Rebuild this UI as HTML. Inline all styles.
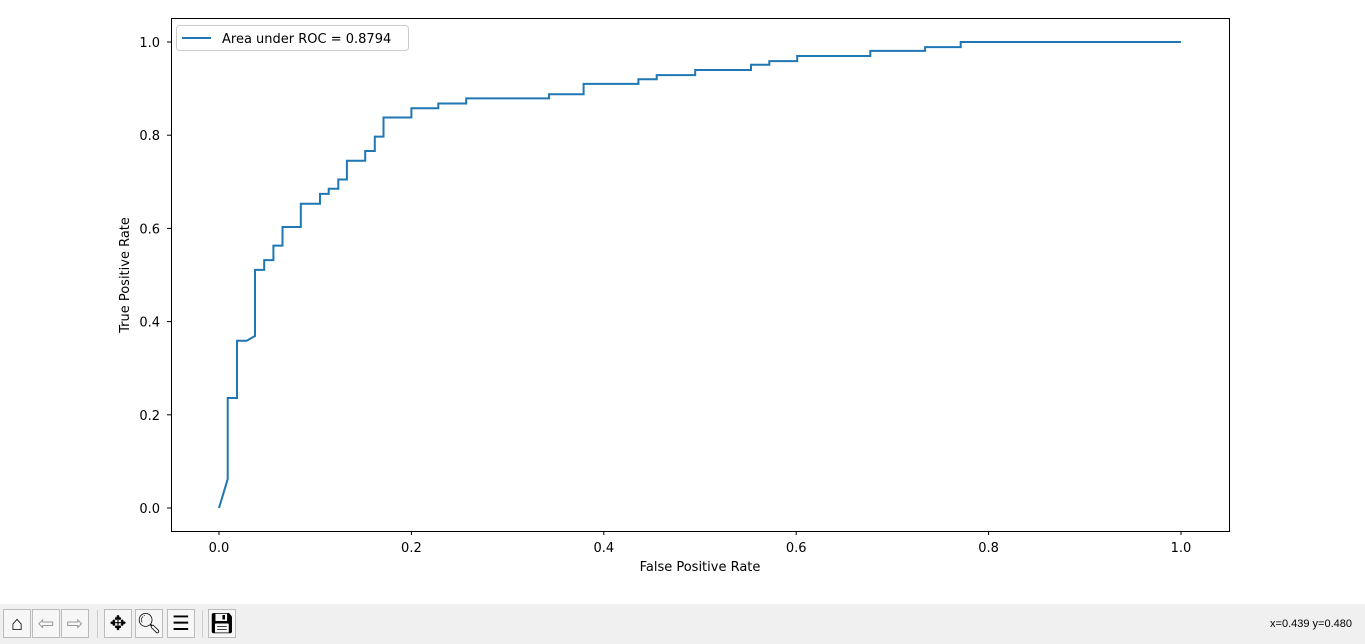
<!DOCTYPE html>
<html><head><meta charset="utf-8"><style>
body{margin:0;width:1365px;height:644px;background:#fff;font-family:"Liberation Sans","DejaVu Sans",sans-serif;overflow:hidden;position:relative}
#toolbar{position:absolute;left:0;top:604px;width:1365px;height:40px;background:#f0f0f0}
.btn{position:absolute;top:5px;width:28px;height:29px;background:#f7f7f7;border:1px solid #bbb;box-sizing:border-box;font-size:20px;text-align:center;line-height:28px;color:#000}
.sep{position:absolute;top:6px;width:1px;height:28px;background:#ccc}
#coords{position:absolute;right:13px;top:14px;font-size:11px;color:#000}
</style></head><body>
<svg id="chart" width="1365" height="604" style="position:absolute;left:0;top:0;font-family:'DejaVu Sans','Liberation Sans',sans-serif"></svg>
<div id="toolbar">
<div class="btn" style="left:3px">⌂</div>
<div class="btn" style="left:32px;color:#999">⇦</div>
<div class="btn" style="left:61px;color:#999">⇨</div>
<div class="sep" style="left:97px"></div>
<div class="btn" style="left:104px">✥</div>
<div class="btn" style="left:135px">🔍︎</div>
<div class="btn" style="left:167px">☰</div>
<div class="sep" style="left:202px"></div>
<div class="btn" style="left:208px">💾︎</div>
<div id="coords">x=0.439 y=0.480</div>
</div>
<script>
const fpr=[0,0.009,0.009,0.0187,0.0187,0.0288,0.0374,0.0374,0.047,0.047,0.0565,0.0565,0.066,0.066,0.085,0.085,0.105,0.105,0.114,0.114,0.124,0.124,0.133,0.133,0.152,0.152,0.162,0.162,0.171,0.171,0.200,0.200,0.228,0.228,0.257,0.257,0.343,0.343,0.379,0.379,0.436,0.436,0.455,0.455,0.495,0.495,0.553,0.553,0.572,0.572,0.601,0.601,0.677,0.677,0.734,0.734,0.771,0.771,1.0];
const tpr=[0,0.062,0.236,0.236,0.359,0.359,0.369,0.511,0.511,0.532,0.532,0.563,0.563,0.603,0.603,0.653,0.653,0.674,0.674,0.685,0.685,0.705,0.705,0.745,0.745,0.766,0.766,0.797,0.797,0.838,0.838,0.858,0.858,0.868,0.868,0.879,0.879,0.888,0.888,0.91,0.91,0.92,0.92,0.929,0.929,0.94,0.94,0.951,0.951,0.959,0.959,0.97,0.97,0.981,0.981,0.989,0.989,1.0,1.0];
const xTicks=[0,0.2,0.4,0.6,0.8,1.0];
const yTicks=[0,0.2,0.4,0.6,0.8,1.0];
const legendLabel="Area under ROC = 0.8794";
const svg=document.getElementById('chart');
const NS='http://www.w3.org/2000/svg';
const X=v=>219+v*962, Y=v=>508-v*466;
function mk(t,a,p){const e=document.createElementNS(NS,t);for(const k in a)e.setAttribute(k,a[k]);(p||svg).appendChild(e);return e;}
const frame=mk('rect',{x:171.5,y:18.5,width:1058,height:513,fill:'none',stroke:'#000','stroke-width':1});


xTicks.forEach(t=>{
  const l=mk('line',{x1:X(t),x2:X(t),y1:531,y2:535,stroke:'#000'});
  
  
  const s=mk('text',{x:X(t),y:552,'text-anchor':'middle','font-size':13});
  s.textContent=t.toFixed(1);
  
  
});
yTicks.forEach(t=>{
  const l=mk('line',{x1:167,x2:171,y1:Y(t),y2:Y(t),stroke:'#000'});
  
  
  const s=mk('text',{x:160,y:Y(t)+5,'text-anchor':'end','font-size':13});
  s.textContent=t.toFixed(1);
  
  
});
const xt=mk('text',{x:700,y:571,'text-anchor':'middle','font-size':13});
xt.textContent='False Positive Rate';


const yt=mk('text',{x:0,y:0,'text-anchor':'middle','font-size':13,transform:'translate(129,275) rotate(-90)'});
yt.textContent='True Positive Rate';


const pts=fpr.map((f,i)=>X(f).toFixed(1)+','+Y(tpr[i]).toFixed(1)).join(' ');
const line=mk('polyline',{points:pts,fill:'none',stroke:'#1f77b4','stroke-width':2});


const lg=mk('g',{});


mk('rect',{x:176.5,y:25.5,width:232,height:25,rx:3,fill:'#fff',stroke:'#ccc'},lg);
mk('line',{x1:182,x2:211,y1:38,y2:38,stroke:'#1f77b4','stroke-width':2},lg);
const lt=mk('text',{x:222,y:43,'font-size':13},lg);
lt.textContent=legendLabel;


</script>
</body></html>
